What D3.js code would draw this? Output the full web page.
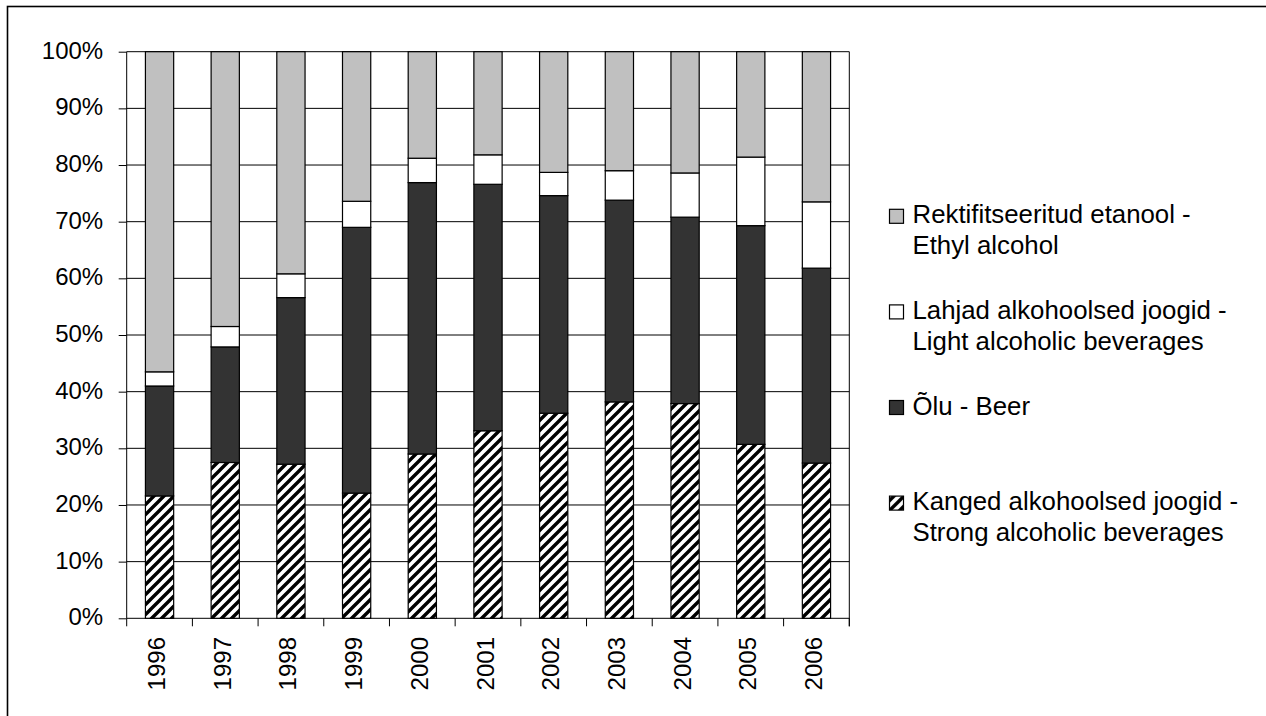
<!DOCTYPE html>
<html>
<head>
<meta charset="utf-8">
<script src="https://cdn.jsdelivr.net/npm/d3@7"></script>
<style>
  html, body { margin: 0; padding: 0; background: #fff; }
  svg { display: block; font-family: "Liberation Sans", Arial, sans-serif; }
</style>
</head>
<body>
<svg id="chart" width="1266" height="716"></svg>
<script>
// ---- data (percent shares) ----
const years = ["1996","1997","1998","1999","2000","2001","2002","2003","2004","2005","2006"];
const strong = [21.6, 27.5, 27.2, 22.1, 29.0, 33.1, 36.2, 38.2, 37.9, 30.7, 27.4];
const beer   = [19.4, 20.4, 29.4, 46.9, 47.9, 43.5, 38.4, 35.6, 32.9, 38.6, 34.4];
const light  = [ 2.5,  3.6,  4.2,  4.6,  4.3,  5.2,  4.1,  5.2,  7.8, 12.1, 11.7];
const ethyl  = [56.5, 48.5, 39.2, 26.4, 18.8, 18.2, 21.3, 21.0, 21.4, 18.6, 26.5];
const yTicks = [0, 0.1, 0.2, 0.3, 0.4, 0.5, 0.6, 0.7, 0.8, 0.9, 1.0];
const seriesKeys = ["strong", "beer", "light", "ethyl"];
const legendItems = [
  { key: "ethyl",  lines: ["Rektifitseeritud etanool -", "Ethyl alcohol"] },
  { key: "light",  lines: ["Lahjad alkohoolsed joogid -", "Light alcoholic beverages"] },
  { key: "beer",   lines: ["Õlu - Beer"] },
  { key: "strong", lines: ["Kanged alkohoolsed joogid -", "Strong alcoholic beverages"] }
];

const table = years.map((y, i) => ({ year: y, strong: strong[i], beer: beer[i], light: light[i], ethyl: ethyl[i] }));
const fills = { strong: "url(#hatch)", beer: "#333333", light: "#ffffff", ethyl: "#c0c0c0" };

const svg = d3.select("#chart");
const plot = { left: 126.7, right: 849.3, top: 51.7, bottom: 618.3 };

// outer frame
svg.append("rect").attr("x", 7.5).attr("y", 6.5).attr("width", 1300).attr("height", 800)
  .attr("fill", "none").attr("stroke", "#000").attr("stroke-width", 1.6);

// hatch pattern
const P = 10;
const defs = svg.append("defs");
const pat = defs.append("pattern").attr("id", "hatch").attr("patternUnits", "userSpaceOnUse")
  .attr("width", P).attr("height", P);
pat.append("rect").attr("width", P).attr("height", P).attr("fill", "#fff");
pat.append("path").attr("d", `M-3,3 L3,-3 M0,${P} L${P},0 M${P-3},${P+3} L${P+3},${P-3}`)
  .attr("stroke", "#000").attr("stroke-width", 3.4);

const x = d3.scaleBand().domain(years).range([plot.left, plot.right])
  .paddingInner(0.57).paddingOuter(0.285);
const y = d3.scaleLinear().domain([0, 1]).range([plot.bottom, plot.top]);

// gridlines
svg.append("g").selectAll("line").data(yTicks.slice(1)).join("line")
  .attr("x1", plot.left).attr("x2", plot.right)
  .attr("y1", d => y(d)).attr("y2", d => y(d))
  .attr("stroke", "#000").attr("stroke-width", 1);

// y axis
const yAxis = d3.axisLeft(y).tickValues(yTicks).tickFormat(d3.format(".0%")).tickSize(8).tickPadding(14);
const gy = svg.append("g").attr("transform", `translate(${plot.left},0)`).call(yAxis);
gy.select(".domain").attr("stroke", "#000").attr("d", `M0,${plot.bottom}V${plot.top}`);
gy.selectAll(".tick line").attr("stroke", "#000");
gy.selectAll(".tick text").attr("font-size", 24).attr("fill", "#000")
  .attr("font-family", "Liberation Sans, Arial, sans-serif").attr("dy", 6.6).attr("x", -23.5);

// right border of plot
svg.append("line").attr("x1", plot.right).attr("x2", plot.right)
  .attr("y1", plot.top).attr("y2", plot.bottom + 8).attr("stroke", "#000");

// x axis
svg.append("line").attr("x1", plot.left).attr("x2", plot.right)
  .attr("y1", plot.bottom).attr("y2", plot.bottom).attr("stroke", "#000");
const step = x.step();
const boundaries = d3.range(years.length + 1).map(i => plot.left + i * step);
svg.append("g").selectAll("line").data(boundaries).join("line")
  .attr("x1", d => d).attr("x2", d => d)
  .attr("y1", plot.bottom).attr("y2", plot.bottom + 8).attr("stroke", "#000");
svg.append("g").selectAll("text").data(years).join("text")
  .attr("transform", d => `translate(${x(d) + x.bandwidth() / 2 + 5.5},637) rotate(-90)`)
  .attr("text-anchor", "end").attr("font-size", 24).attr("fill", "#000")
  .text(d => d);

// stacked bars
const stack = d3.stack().keys(seriesKeys).offset(d3.stackOffsetExpand);
const series = stack(table);
svg.append("g").selectAll("g").data(series).join("g")
  .attr("fill", d => fills[d.key])
  .selectAll("rect").data(d => d).join("rect")
  .attr("x", d => x(d.data.year))
  .attr("width", x.bandwidth())
  .attr("y", d => y(d[1]))
  .attr("height", d => y(d[0]) - y(d[1]))
  .attr("stroke", "#000").attr("stroke-width", 1.2);

// legend
const legY0 = 223.3, legStep = 95.6;
const leg = svg.append("g").selectAll("g").data(legendItems).join("g")
  .attr("transform", (d, i) => `translate(0,${legY0 + i * legStep})`);
leg.append("rect").attr("x", 889.5).attr("y", -14).attr("width", 14).attr("height", 14)
  .attr("fill", d => fills[d.key]).attr("stroke", "#000").attr("stroke-width", 1.2);
leg.each(function(d) {
  const g = d3.select(this);
  d.lines.forEach((line, j) => {
    g.append("text").attr("x", 912.5).attr("y", j * 31).attr("font-size", 25.8)
      .attr("fill", "#000").text(line);
  });
});
</script>
</body>
</html>
